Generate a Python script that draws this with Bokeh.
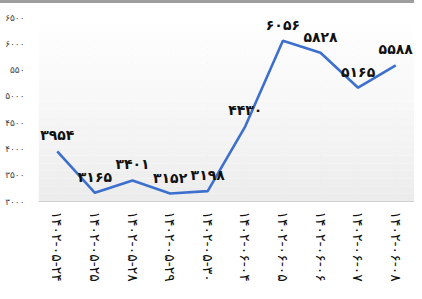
import math
from bokeh.plotting import figure
from bokeh.models import FixedTicker, ColumnDataSource, BoxAnnotation, Div
from bokeh.layouts import column
from bokeh.embed import file_html
from bokeh.resources import INLINE
from bokeh.core.properties import value

# ---- data ----
dates = ["۱۴۰۲-۰۵-۲۴", "۱۴۰۲-۰۵-۲۵", "۱۴۰۲-۰۵-۲۸", "۱۴۰۲-۰۵-۲۹", "۱۴۰۲-۰۵-۳۰",
         "۱۴۰۲-۰۶-۰۴", "۱۴۰۲-۰۶-۰۵", "۱۴۰۲-۰۶-۰۶", "۱۴۰۲-۰۶-۰۷", "۱۴۰۲-۰۶-۰۸"]
values = [3954, 3165, 3401, 3152, 3198, 4430, 6056, 5828, 5165, 5588]
y_ticks = [3000, 3500, 4000, 4500, 5000, 5500, 6000, 6500]
y_tick_labels = ["۳۰۰۰", "۳۵۰۰", "۴۰۰۰", "۴۵۰۰", "۵۰۰۰", "۵۵۰", "۶۰۰۰", "۶۵۰۰"]

FA = str.maketrans("0123456789", "۰۱۲۳۴۵۶۷۸۹")
value_labels = [str(v).translate(FA) for v in values]

src = ColumnDataSource(dict(x=dates, y=values, t=value_labels))

FONT = "DejaVu Sans"
Y0, Y1 = 3000, 6500

p = figure(x_range=dates, y_range=(Y0, Y1), width=414, height=288,
           output_backend="svg", toolbar_location=None,
           min_border_left=38, min_border_right=0, min_border_top=14,
           min_border_bottom=90)
p.outline_line_color = None
p.background_fill_color = "white"
p.border_fill_color = "white"

# soft vertical gradient in the plot area
n = 24
for i in range(n):
    lo = Y0 + (Y1 - Y0) * i / n
    hi = Y0 + (Y1 - Y0) * (i + 1) / n
    g = int(236 + (255 - 236) * (i / (n - 1)) ** 0.8)
    p.add_layout(BoxAnnotation(bottom=lo, top=hi, fill_color=(g, g, g),
                               fill_alpha=1.0, line_color=None, level="underlay"))

p.ygrid.grid_line_color = None
p.xgrid.grid_line_color = "#dcdcdc"
p.xgrid.grid_line_width = 1

p.line("x", "y", source=src, line_color="#3d6fcf", line_width=2.6)
p.text("x", "y", text="t", source=src, text_align="center",
       text_baseline="bottom", y_offset=-8,
       text_font=value(FONT), text_font_style="bold",
       text_font_size="14px", text_color="#111111")

yax = p.yaxis[0]
yax.ticker = FixedTicker(ticks=y_ticks)
yax.major_label_overrides = {t: l for t, l in zip(y_ticks, y_tick_labels)}
yax.axis_line_color = None
yax.major_tick_line_color = None
yax.minor_tick_line_color = None
yax.major_label_standoff = 8
yax.major_label_text_font = FONT
yax.major_label_text_font_size = "9px"
yax.major_label_text_color = "#444444"

xax = p.xaxis[0]
xax.axis_line_color = "#d0d0d0"
xax.major_tick_line_color = None
xax.minor_tick_line_color = None
xax.major_label_orientation = -math.pi / 2
xax.major_label_standoff = 4
xax.major_label_text_font = FONT
xax.major_label_text_font_size = "14px"
xax.major_label_text_color = "#111111"

bar = Div(text="&nbsp;", width=414, height=3, margin=0,
          styles={"background-color": "#9e9e9e", "height": "3px",
                  "overflow": "hidden", "font-size": "1px", "line-height": "1px"})

layout = column(bar, p, spacing=0)
open("out.html", "w").write(file_html(layout, INLINE))
